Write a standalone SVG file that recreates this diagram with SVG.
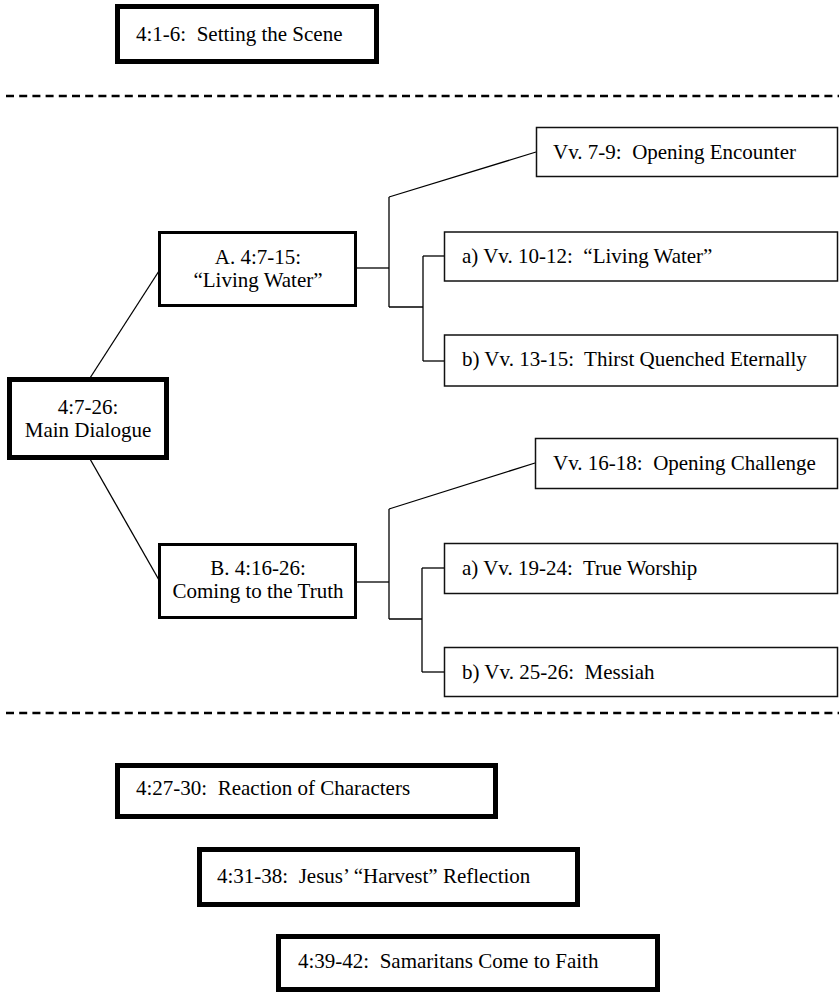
<svg xmlns="http://www.w3.org/2000/svg" width="839" height="993" viewBox="0 0 839 993">
<style>
text{font-size:21px;fill:#000;white-space:pre}
.c{text-anchor:middle}
.thick{fill:#fff;stroke:#000;stroke-width:5}
.mid{fill:#fff;stroke:#000;stroke-width:3}
.thin{fill:#fff;stroke:#111;stroke-width:1.5}
.conn line{stroke:#000;stroke-width:1.3;fill:none}
.dash{stroke:#000;stroke-width:2.5;stroke-dasharray:8 5.2}
</style>
<rect width="839" height="993" fill="#fff"/>
<g class="conn" id="connectors">
<line x1="90" y1="378" x2="159" y2="271"/>
<line x1="90" y1="459" x2="159" y2="580"/>
<line x1="357" y1="268" x2="389" y2="268"/>
<line x1="389" y1="197" x2="389" y2="307"/>
<line x1="389" y1="197" x2="536" y2="152"/>
<line x1="389" y1="307" x2="423" y2="307"/>
<line x1="423" y1="256" x2="423" y2="361"/>
<line x1="423" y1="256" x2="445" y2="256"/>
<line x1="423" y1="361" x2="445" y2="361"/>
<line x1="357" y1="582" x2="389" y2="582"/>
<line x1="389" y1="509" x2="389" y2="619"/>
<line x1="389" y1="509" x2="535" y2="463"/>
<line x1="389" y1="619" x2="422" y2="619"/>
<line x1="422" y1="568" x2="422" y2="672"/>
<line x1="422" y1="568" x2="445" y2="568"/>
<line x1="422" y1="672" x2="445" y2="672"/>
</g>
<line class="dash" x1="6" y1="96" x2="839" y2="96"/>
<line class="dash" x1="6" y1="713" x2="839" y2="713"/>
<g font-family="Liberation Serif, Times New Roman, Tinos, DejaVu Serif, serif">
<g id="n_setting"><rect class="thick" x="117.5" y="6.5" width="259" height="55"/><text x="136" y="41">4:1-6:  Setting the Scene</text></g>
<g id="n_main"><rect class="thick" x="9.5" y="379.5" width="157" height="78"/><text class="c" x="88" y="414">4:7-26:</text><text class="c" x="88" y="437">Main Dialogue</text></g>
<g id="n_A"><rect class="mid" x="159.5" y="232.5" width="196" height="73"/><text class="c" x="258" y="264">A. 4:7-15:</text><text class="c" x="258" y="287">“Living Water”</text></g>
<g id="n_B"><rect class="mid" x="159.5" y="544.5" width="196" height="73"/><text class="c" x="258" y="575">B. 4:16-26:</text><text class="c" x="258" y="598">Coming to the Truth</text></g>
<g id="n_a1"><rect class="thin" x="536.5" y="127.5" width="301" height="49"/><text x="553" y="159">Vv. 7-9:  Opening Encounter</text></g>
<g id="n_a2"><rect class="thin" x="444.5" y="232" width="393" height="49"/><text x="462" y="263">a) Vv. 10-12:  “Living Water”</text></g>
<g id="n_a3"><rect class="thin" x="444.5" y="335" width="393" height="51"/><text x="462" y="366">b) Vv. 13-15:  Thirst Quenched Eternally</text></g>
<g id="n_b1"><rect class="thin" x="535.5" y="438.5" width="302" height="50"/><text x="553" y="470">Vv. 16-18:  Opening Challenge</text></g>
<g id="n_b2"><rect class="thin" x="444.5" y="543.5" width="393" height="50"/><text x="462" y="575">a) Vv. 19-24:  True Worship</text></g>
<g id="n_b3"><rect class="thin" x="444.5" y="647.5" width="393" height="49"/><text x="462" y="679">b) Vv. 25-26:  Messiah</text></g>
<g id="n_27"><rect class="thick" x="117.5" y="765.5" width="378" height="51"/><text x="136" y="795">4:27-30:  Reaction of Characters</text></g>
<g id="n_31"><rect class="thick" x="199.5" y="849.5" width="378" height="55"/><text x="217" y="883">4:31-38:  Jesus’ “Harvest” Reflection</text></g>
<g id="n_39"><rect class="thick" x="278.5" y="936.5" width="379" height="53"/><text x="298" y="968">4:39-42:  Samaritans Come to Faith</text></g>
</g>
</svg>
